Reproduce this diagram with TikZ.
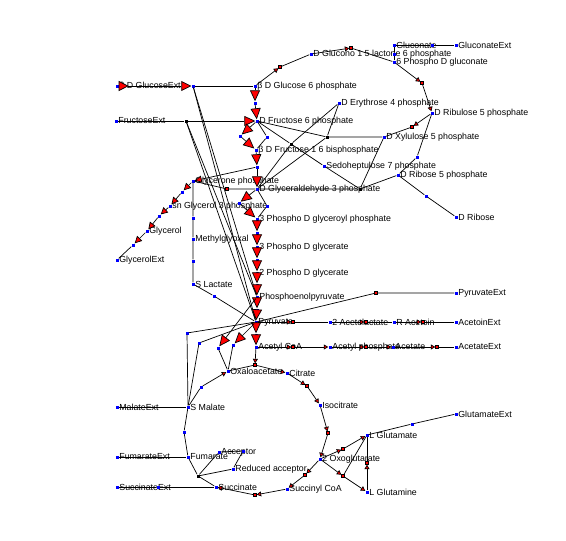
\documentclass[tikz,border=0pt]{standalone}
\usepackage{fontspec}
\setmainfont{Liberation Sans}
\usetikzlibrary{arrows.meta}
\definecolor{dotblue}{HTML}{0000FF}
\definecolor{tri}{HTML}{FF0000}
\tikzset{lab/.style={font=\fontsize{8.8}{9}\selectfont,inner sep=0.5pt},
         met/.style={fill=dotblue,inner sep=0pt,minimum size=3pt,label distance=2pt,label={[lab]right:#1}},
         rx/.style={fill=dotblue,inner sep=0pt,minimum size=3pt},
         rr/.style={fill=tri,draw=black,line width=0.3pt,inner sep=0pt,minimum size=3pt},
         rk/.style={fill=black,inner sep=0pt,minimum size=3pt},
         ln/.style={black,line width=0.7pt},
         tb/.style={ln,-{Triangle[length=11pt,width=10pt,fill=tri]}},
         tbb/.style={ln,{Triangle[reversed,length=10pt,width=10pt,fill=tri]}-{Triangle[length=10pt,width=10pt,fill=tri]}},
         tm/.style={ln,-{Triangle[length=7pt,width=7pt,fill=tri]}},
         ts/.style={ln,-{Triangle[length=4.5pt,width=5pt,fill=tri]}}}
\begin{document}
\begin{tikzpicture}[x=1pt,y=-1pt]
 \useasboundingbox (0,0) rectangle (566,541);
 \node[met={β D GlucoseExt}] (glcx) at (117,86) {};
 \node[met=FructoseExt] (frux) at (116,121) {};
 \node[met={β D Glucose 6 phosphate}] (gsix) at (255,86) {};
 \node[met={D Fructose 6 phosphate}] (fsix) at (257,121) {};
 \node[met={β D Fructose 1 6 bisphosphate}] (fbp) at (256,150) {};
 \node[met={Glycerone phosphate}] (dhap) at (193,181) {};
 \node[met={D Glyceraldehyde 3 phosphate}] (gap) at (257,189) {};
 \node[met={sn Glycerol 3 phosphate}] (glyp) at (170,206) {};
 \node[met=Glycerol] (glyc) at (147,231) {};
 \node[met=GlycerolExt] (glycx) at (117,260) {};
 \node[met={3 Phospho D glyceroyl phosphate}] (bpg) at (257,219) {};
 \node[met={3 Phospho D glycerate}] (pgiii) at (257,247) {};
 \node[met={2 Phospho D glycerate}] (pgii) at (257,273) {};
 \node[met=Phosphoenolpyruvate] (pep) at (257,297) {};
 \node[met=Pyruvate] (pyr) at (256,322) {};
 \node[met={Acetyl CoA}] (accoa) at (256,347) {};
 \node[met=Methylglyoxal] (mgo) at (193,239) {};
 \node[met={S Lactate}] (lac) at (193,284) {};
 \node[met=PyruvateExt] (pyrx) at (456,293) {};
 \node[met={2 Acetolactate}] (alac) at (330,322) {};
 \node[met={R Acetoin}] (actn) at (394,322) {};
 \node[met=AcetoinExt] (actnx) at (456,322) {};
 \node[met={Acetyl phosphate}] (actp) at (330,347) {};
 \node[met=Acetate] (ac) at (393,347) {};
 \node[met=AcetateExt] (acx) at (456,347) {};
 \node[met=Oxaloacetate] (oaa) at (228,371) {};
 \node[met=Citrate] (cit) at (287,373) {};
 \node[met=Isocitrate] (icit) at (320,405) {};
 \node[met={2 Oxoglutarate}] (akg) at (320,459) {};
 \node[met={Succinyl CoA}] (succoa) at (287,489) {};
 \node[met=Succinate] (succ) at (216,487) {};
 \node[met=Fumarate] (fum) at (188,457) {};
 \node[met={S Malate}] (mal) at (188,407) {};
 \node[met=MalateExt] (malx) at (117,407) {};
 \node[met=FumarateExt] (fumx) at (117,457) {};
 \node[met=SuccinateExt] (succx) at (117,487) {};
 \node[met=Acceptor] (acc) at (219,452) {};
 \node[met={Reduced acceptor}] (racc) at (233,469) {};
 \node[met={L Glutamate}] (glu) at (367,435) {};
 \node[met={L Glutamine}] (gln) at (367,492) {};
 \node[met=GlutamateExt] (glux) at (456,414) {};
 \node[met={D Glucono 1 5 lactone 6 phosphate}] (glcl) at (311,54) {};
 \node[met={6 Phospho D gluconate}] (pgn) at (394,62) {};
 \node[met=Gluconate] (glcn) at (394,45) {};
 \node[met=GluconateExt] (glcnx) at (456,45) {};
 \node[met={D Ribulose 5 phosphate}] (rupi) at (432,113) {};
 \node[met={D Xylulose 5 phosphate}] (xupi) at (384,137) {};
 \node[met={D Ribose 5 phosphate}] (ripi) at (398,175) {};
 \node[met={D Erythrose 4 phosphate}] (eivp) at (339,103) {};
 \node[met={Sedoheptulose 7 phosphate}] (sviip) at (324,166) {};
 \node[met={D Ribose}] (rib) at (456,217) {};
 \node[rx] (r1) at (193,86) {};
 \node[rk] (r2) at (186,121) {};
 \node[rx] (r3) at (255,103) {};
 \node[rx] (r4a) at (240,136) {};
 \node[rx] (r4b) at (267,137) {};
 \node[rx] (r5) at (257,167) {};
 \node[rr] (r6) at (227,189) {};
 \node[rx] (r7a) at (239,203) {};
 \node[rx] (r7b) at (267,206) {};
 \node[rx] (r8) at (257,233) {};
 \node[rx] (r9) at (257,260) {};
 \node[rx] (r10) at (257,285) {};
 \node[rx] (r11) at (257,310) {};
 \node[rx] (r12) at (256,335) {};
 \node[rx] (rg1) at (182,192) {};
 \node[rx] (rg2) at (159,216) {};
 \node[rx] (rg3) at (133,245) {};
 \node[rx] (rm1) at (193,218) {};
 \node[rx] (rm2) at (193,261) {};
 \node[rx] (rl) at (214,296) {};
 \node[rr] (rpx) at (376,293) {};
 \node[rr] (ra1) at (293,322) {};
 \node[rr] (ra2) at (366,322) {};
 \node[rr] (ra3) at (423,322) {};
 \node[rr] (rc1) at (293,347) {};
 \node[rr] (rc2) at (366,347) {};
 \node[rr] (rc3) at (437,347) {};
 \node[rx] (rpc) at (233,345) {};
 \node[rx] (rpck) at (218,348) {};
 \node[rx] (rme1) at (187,333) {};
 \node[rx] (rme2) at (199,343) {};
 \node[rr] (rcs) at (255,365) {};
 \node[rr] (raco) at (307,386) {};
 \node[rr] (ricd) at (328,433) {};
 \node[rr] (rakgdh) at (305,475) {};
 \node[rr] (rscs) at (255,495) {};
 \node[rk] (rsdh) at (198,476) {};
 \node[rx] (rfum) at (184,432) {};
 \node[rx] (rmdh) at (201,387) {};
 \node[rx] (racc1) at (243,451) {};
 \node[rx] (rsx) at (158,487) {};
 \node[rr] (rgdh) at (343,449) {};
 \node[rr] (rgog) at (343,476) {};
 \node[rr] (rgs) at (367,463) {};
 \node[rx] (rglux) at (412,424) {};
 \node[rr] (rzwf) at (280,67) {};
 \node[rr] (rpgl) at (351,48) {};
 \node[rr] (rgnd) at (422,83) {};
 \node[rx] (rgnt) at (394,54) {};
 \node[rx] (rgx) at (432,45) {};
 \node[rr] (rrpe) at (412,127) {};
 \node[rx] (rrpi) at (417,157) {};
 \node[rx] (rrbs) at (426,196) {};
 \node[rk] (rtk1) at (327,137) {};
 \node[rk] (rta) at (291,144) {};
 \node[rk] (rtk2) at (360,189) {};
 \draw[tbb] (glcx) -- (r1); \draw[ln] (r1) -- (gsix);
 \draw[ln] (frux) -- (r2); \draw[tb] (r2) -- (fsix);
 \draw[ln] (r1) -- (pep); \draw[ln] (r1) -- (pyr); \draw[ln] (r2) -- (pep); \draw[ln] (r2) -- (pyr);
 \draw[tb] (gsix) -- (r3); \draw[tb] (r3) -- (fsix);
 \draw[tb] (fsix) -- (r4a); \draw[tb] (r4a) -- (fbp); \draw[ln] (fsix) -- (r4b) -- (fbp);
 \draw[tb] (fbp) -- (r5); \draw[tm] (r5) -- (dhap); \draw[tb] (r5) -- (gap);
 \draw[ln] (dhap) -- (r6) -- (gap);
 \draw[tm] (dhap) -- (rg1); \draw[tm] (rg1) -- (glyp); \draw[tm] (glyp) -- (rg2); \draw[tm] (rg2) -- (glyc);
 \draw[tm] (glyc) -- (rg3); \draw[ln] (rg3) -- (glycx);
 \draw[tb] (gap) -- (r7a); \draw[tb] (r7a) -- (bpg); \draw[ln] (gap) -- (r7b) -- (bpg);
 \draw[tb] (bpg) -- (r8); \draw[tb] (r8) -- (pgiii); \draw[tb] (pgiii) -- (r9); \draw[tb] (r9) -- (pgii);
 \draw[tb] (pgii) -- (r10); \draw[tb] (r10) -- (pep); \draw[tb] (pep) -- (r11); \draw[tb] (r11) -- (pyr);
 \draw[tb] (pyr) -- (r12); \draw[tb] (r12) -- (accoa);
 \draw[ln] (dhap) -- (rm1) -- (mgo) -- (rm2) -- (lac) -- (rl) -- (pyr);
 \draw[ln] (pyr) -- (rpx) -- (pyrx);
 \draw[ts] (pyr) -- (ra1); \draw[ln] (ra1) -- (alac); \draw[ts] (alac) -- (ra2); \draw[ln] (ra2) -- (actn);
 \draw[ts] (actn) -- (ra3); \draw[ln] (ra3) -- (actnx);
 \draw[ts] (accoa) -- (rc1); \draw[ts] (rc1) -- (actp); \draw[ts] (actp) -- (rc2); \draw[ts] (rc2) -- (ac);
 \draw[ts] (ac) -- (rc3); \draw[ln] (rc3) -- (acx);
 \draw[tb] (pyr) -- (rpc); \draw[ln] (rpc) -- (oaa); \draw[tb] (pep) -- (rpck); \draw[ln] (rpck) -- (oaa);
 \draw[ln] (pyr) -- (rme1) -- (mal); \draw[ln] (pyr) -- (rme2) -- (mal);
 \draw[ts] (accoa) -- (rcs); \draw[ln] (oaa) -- (rcs); \draw[ts] (rcs) -- (cit);
 \draw[ts] (cit) -- (raco); \draw[ts] (raco) -- (icit); \draw[ts] (icit) -- (ricd); \draw[ts] (ricd) -- (akg);
 \draw[ts] (akg) -- (rakgdh); \draw[ts] (rakgdh) -- (succoa); \draw[ts] (succoa) -- (rscs); \draw[ts] (rscs) -- (succ);
 \draw[ln] (succ) -- (rsdh) -- (fum) -- (rfum) -- (mal) -- (rmdh); \draw[ts] (rmdh) -- (oaa);
 \draw[ln] (rsdh) -- (acc); \draw[ln] (rsdh) -- (racc); \draw[ln] (acc) -- (racc1) -- (racc);
 \draw[ln] (malx) -- (mal); \draw[ln] (fumx) -- (fum); \draw[ln] (succx) -- (rsx) -- (succ);
 \draw[ts] (akg) -- (rgdh); \draw[ts] (rgdh) -- (glu); \draw[ts] (akg) -- (rgog); \draw[ts] (rgog) -- (gln);
 \draw[ln] (rgog) -- (glu); \draw[ts] (gln) -- (rgs); \draw[ln] (rgs) -- (glu);
 \draw[ln] (glu) -- (rglux) -- (glux);
 \draw[ts] (gsix) -- (rzwf); \draw[ln] (rzwf) -- (glcl); \draw[ts] (glcl) -- (rpgl); \draw[ln] (rpgl) -- (pgn);
 \draw[ts] (pgn) -- (rgnd); \draw[ts] (rgnd) -- (rupi);
 \draw[ln] (pgn) -- (rgnt) -- (glcn) -- (rgx) -- (glcnx);
 \draw[ts] (rupi) -- (rrpe); \draw[ln] (rrpe) -- (xupi); \draw[ln] (rupi) -- (rrpi) -- (ripi) -- (rrbs) -- (rib);
 \draw[ln] (fsix) -- (rtk1) -- (xupi); \draw[ln] (eivp) -- (rtk1) -- (gap);
 \draw[ln] (fsix) -- (rta) -- (sviip); \draw[ln] (eivp) -- (rta) -- (gap);
 \draw[ln] (gap) -- (rtk2) -- (ripi); \draw[ln] (sviip) -- (rtk2) -- (xupi);
\end{tikzpicture}
\end{document}
